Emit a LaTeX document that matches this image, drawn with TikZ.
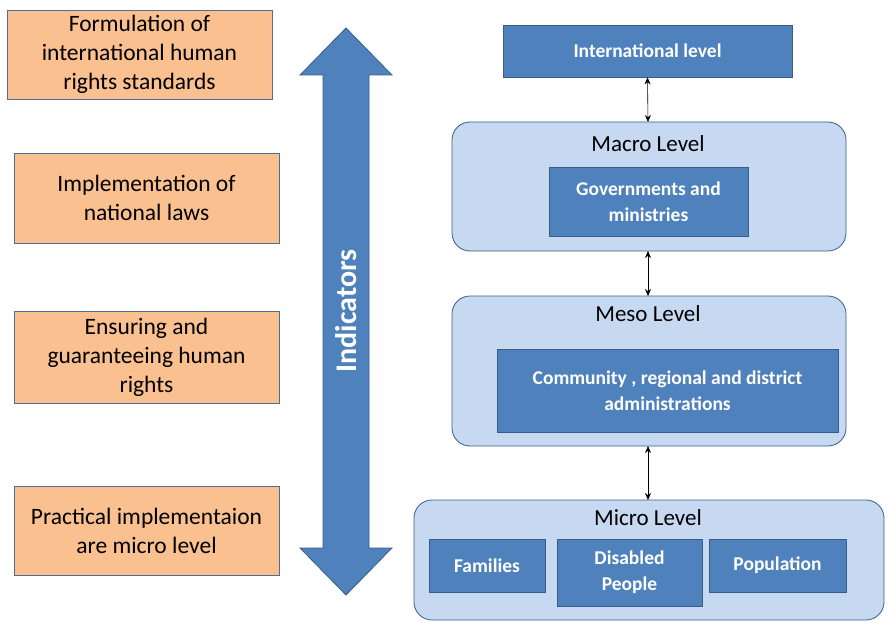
\documentclass[tikz,border=0pt]{standalone}
\usepackage{fontspec}
\setmainfont{Carlito}
\usetikzlibrary{arrows.meta}
\definecolor{orangefill}{HTML}{FAC090}
\definecolor{frame}{HTML}{4F6D8F}
\definecolor{darkblue}{HTML}{4F81BD}
\definecolor{darkframe}{HTML}{385D8A}
\definecolor{lightblue}{HTML}{C6D9F1}
\tikzset{
	task/.style={draw=frame,thick,fill=orangefill,align=center,inner sep=0pt,font=\fontsize{23.5}{29}\selectfont},
	unit/.style={draw=darkframe,thick,fill=darkblue,text=white,align=center,inner sep=0pt,font=\fontsize{19.5}{26}\selectfont\bfseries},
	level/.style={draw=darkframe,thick,fill=lightblue,rounded corners=18pt},
	lab/.style={font=\fontsize{23}{26}\selectfont},
	link/.style={<->,semithick,>={Stealth[length=7pt,width=6pt]}}
	}
\begin{document}
\begin{tikzpicture}[x=1pt,y=-1pt]
		\path[use as bounding box] (0,0) rectangle (891,631);
		
		%% Left column
		\node[task,minimum width=265,minimum height=89] (t1) at (139.5,54.5) {Formulation of\\international human\\rights standards};
		\node[task,minimum width=265,minimum height=90] (t2) at (146.5,198) {Implementation of\\national laws};
		\node[task,minimum width=265,minimum height=92] (t3) at (146.5,357) {Ensuring and\\guaranteeing human\\rights};
		\node[task,minimum width=265,minimum height=89] (t4) at (146.5,530.5) {Practical implementaion\\are micro level};
		
		%% Indicators arrow
		\draw[draw=darkframe,thick,fill=darkblue] (346,28) -- (392,75) -- (369,75) -- (369,548) -- (392,548)
			-- (346,595) -- (300,548) -- (323,548) -- (323,75) -- (300,75) -- cycle;
		\node[text=white,rotate=90,font=\fontsize{30}{32}\selectfont\bfseries] (ind) at (346,311) {Indicators};
		
		%% Right column
		\node[unit,minimum width=289,minimum height=52] (int) at (647.5,51) {International level};
		
		\draw[level] (452,122) rectangle (846,251);
		\node[lab] (macro) at (648,144) {Macro Level};
		\node[unit,minimum width=199,minimum height=69] (gov) at (648.5,201.5) {Governments and\\ministries};
		
		\draw[level] (452,296) rectangle (846,446);
		\node[lab] (meso) at (648,314) {Meso Level};
		\node[unit,minimum width=341,minimum height=83] (com) at (667.5,390.5) {Community , regional and district\\administrations};
		
		\draw[level] (414,500) rectangle (884,620);
		\node[lab] (micro) at (648,518) {Micro Level};
		\node[unit,minimum width=116,minimum height=53] (fam) at (487,565.5) {Families};
		\node[unit,minimum width=145,minimum height=67] (dis) at (629.5,572.5) {Disabled\\People};
		\node[unit,minimum width=137,minimum height=53] (pop) at (777.5,565.5) {Population};
		
		\coordinate (a1) at (648,122);
		\coordinate (a2) at (648,251);
		\coordinate (a3) at (648,296);
		\coordinate (a4) at (648,446);
		\coordinate (a5) at (648,500);
		\draw[link] (int.south) -- (a1);
		\draw[link] (a2) -- (a3);
		\draw[link] (a4) -- (a5);
	\end{tikzpicture}
\end{document}
